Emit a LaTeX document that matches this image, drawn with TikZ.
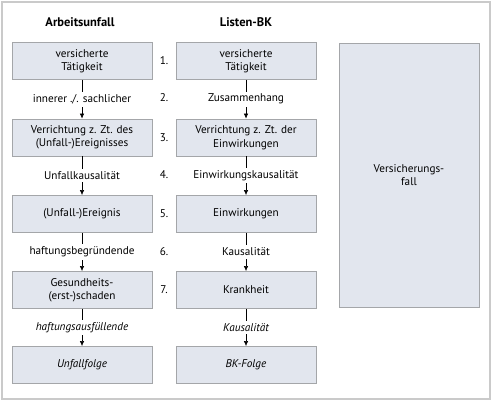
\documentclass[tikz,border=0pt]{standalone}
\usepackage{fontspec}
\setmainfont{PT Sans}
\usetikzlibrary{arrows.meta,positioning}
\definecolor{boxfill}{HTML}{E2E6EE}
\definecolor{boxline}{HTML}{A4A6A9}
\definecolor{frameline}{HTML}{CACACA}
\tikzset{
  stepbox/.style={draw=boxline, fill=boxfill, line width=0.8pt, minimum width=140pt, minimum height=37pt, align=center, inner sep=2pt, font=\fontsize{11.2}{13.5}\selectfont},
  link/.style={fill=white, inner sep=2.5pt, font=\fontsize{11.2}{13.5}\selectfont},
  num/.style={font=\fontsize{11.2}{13.5}\selectfont},
  head/.style={font=\fontsize{12.5}{14}\selectfont\bfseries},
  flow/.style={-{Latex[length=5pt,width=4.5pt]}, line width=0.6pt}
}
\begin{document}
\begin{tikzpicture}[x=1pt,y=-1pt]
	\useasboundingbox (0,0) rectangle (492,400);
	\draw[frameline, line width=2pt] (1.5,1.5) rectangle (490,398.5);
	%
	\node (hA)[head] at (80,22) {Arbeitsunfall};
	\node (hL)[head] at (246,22) {Listen-BK};
	%
	\node (A1)[stepbox] at (82,61) {versicherte\\Tätigkeit};
	\node (A2)[stepbox] at (82,137.5) {Verrichtung z. Zt. des\\(Unfall-)Ereignisses};
	\node (A3)[stepbox] at (82,214) {(Unfall-)Ereignis};
	\node (A4)[stepbox] at (82,290) {Gesundheits-\\(erst-)schaden};
	\node (A5)[stepbox] at (82,365) {\itshape Unfallfolge};
	%
	\node (L1)[stepbox] at (246,61) {versicherte\\Tätigkeit};
	\node (L2)[stepbox] at (246,137.5) {Verrichtung z. Zt. der\\Einwirkungen};
	\node (L3)[stepbox] at (246,214) {Einwirkungen};
	\node (L4)[stepbox] at (246,290) {Krankheit};
	\node (L5)[stepbox] at (246,365) {\itshape BK-Folge};
	%
	\node (V)[stepbox, minimum height=264pt] at (409,175) {Versicherungs-\\fall};
	%
	\draw[flow] (A1) -- node[link]{innerer ./. sachlicher} (A2);
	\draw[flow] (A2) -- node[link]{Unfallkausalität} (A3);
	\draw[flow] (A3) -- node[link]{haftungsbegründende} (A4);
	\draw[flow] (A4) -- node[link]{\itshape haftungsausfüllende} (A5);
	%
	\draw[flow] (L1) -- node[link]{Zusammenhang} (L2);
	\draw[flow] (L2) -- node[link]{Einwirkungskausalität} (L3);
	\draw[flow] (L3) -- node[link]{Kausalität} (L4);
	\draw[flow] (L4) -- node[link]{\itshape Kausalität} (L5);
	%
	\foreach \i/\y in {1/61,2/98,3/137.5,4/175,5/214,6/252,7/290}
		\node (n\i)[num] at (164,\y) {\i.};
\end{tikzpicture}
\end{document}
